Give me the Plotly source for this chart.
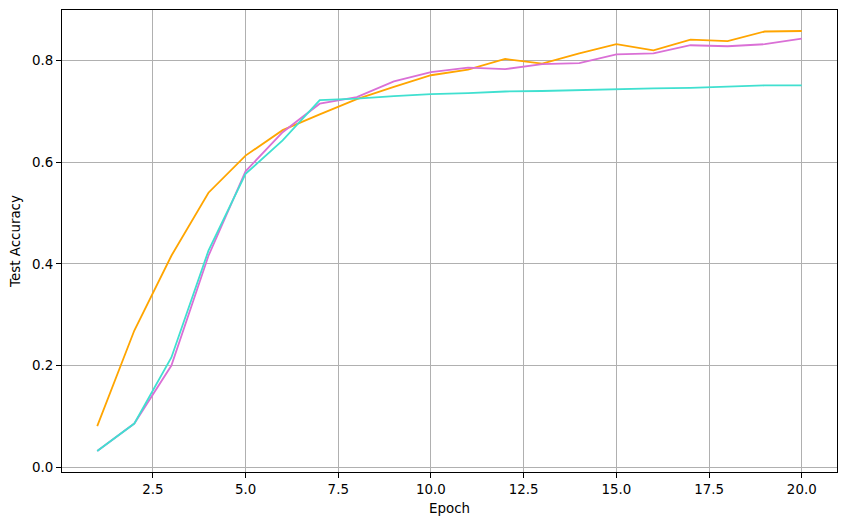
import plotly.graph_objects as go

epochs = list(range(1, 21))

acc_orange = [0.081, 0.269, 0.416, 0.540, 0.613, 0.663, 0.694, 0.724, 0.748, 0.771,
              0.782, 0.803, 0.794, 0.814, 0.832, 0.820, 0.841, 0.838, 0.857, 0.858]
acc_orchid = [0.032, 0.086, 0.200, 0.416, 0.582, 0.659, 0.715, 0.728, 0.759, 0.777,
              0.786, 0.783, 0.793, 0.795, 0.812, 0.814, 0.830, 0.828, 0.832, 0.843]
acc_turquoise = [0.032, 0.086, 0.216, 0.426, 0.577, 0.643, 0.722, 0.725, 0.730, 0.734,
                 0.736, 0.739, 0.740, 0.742, 0.743, 0.745, 0.746, 0.748, 0.751, 0.751]

x_ticks = [2.5, 5.0, 7.5, 10.0, 12.5, 15.0, 17.5, 20.0]
y_ticks = [0.0, 0.2, 0.4, 0.6, 0.8]

fig = go.Figure()
for vals, color in [(acc_orange, '#FFA500'), (acc_orchid, '#DA70D6'), (acc_turquoise, '#40E0D0')]:
    fig.add_trace(go.Scatter(x=epochs, y=vals, mode='lines',
                             line=dict(color=color, width=1.8), showlegend=False))

axis_style = dict(
    showline=True, linecolor='black', linewidth=1, mirror=True,
    ticks='outside', ticklen=5, tickcolor='black',
    showgrid=True, gridcolor='#b0b0b0', gridwidth=1,
    zeroline=False,
    tickfont=dict(size=13.4, color='black'),
)

# page body adds an 8px offset, so the figure is a bit smaller than the window
fig.update_layout(
    width=838, height=517,
    font=dict(family='DejaVu Sans', size=13.4, color='black'),
    paper_bgcolor='white', plot_bgcolor='white',
    margin=dict(l=54, r=9, t=2, b=53),
    xaxis=dict(range=[0.05, 20.95], tickvals=x_ticks,
               ticktext=[f'{v:.1f}' for v in x_ticks],
               title=dict(text='Epoch', font=dict(size=13.4), standoff=7), **axis_style),
    yaxis=dict(range=[-0.0093, 0.8993], tickvals=y_ticks,
               ticktext=[f'{v:.1f}' for v in y_ticks],
               title=dict(text='Test Accuracy', font=dict(size=13.4), standoff=9), **axis_style),
)

fig.write_html("out.html")
